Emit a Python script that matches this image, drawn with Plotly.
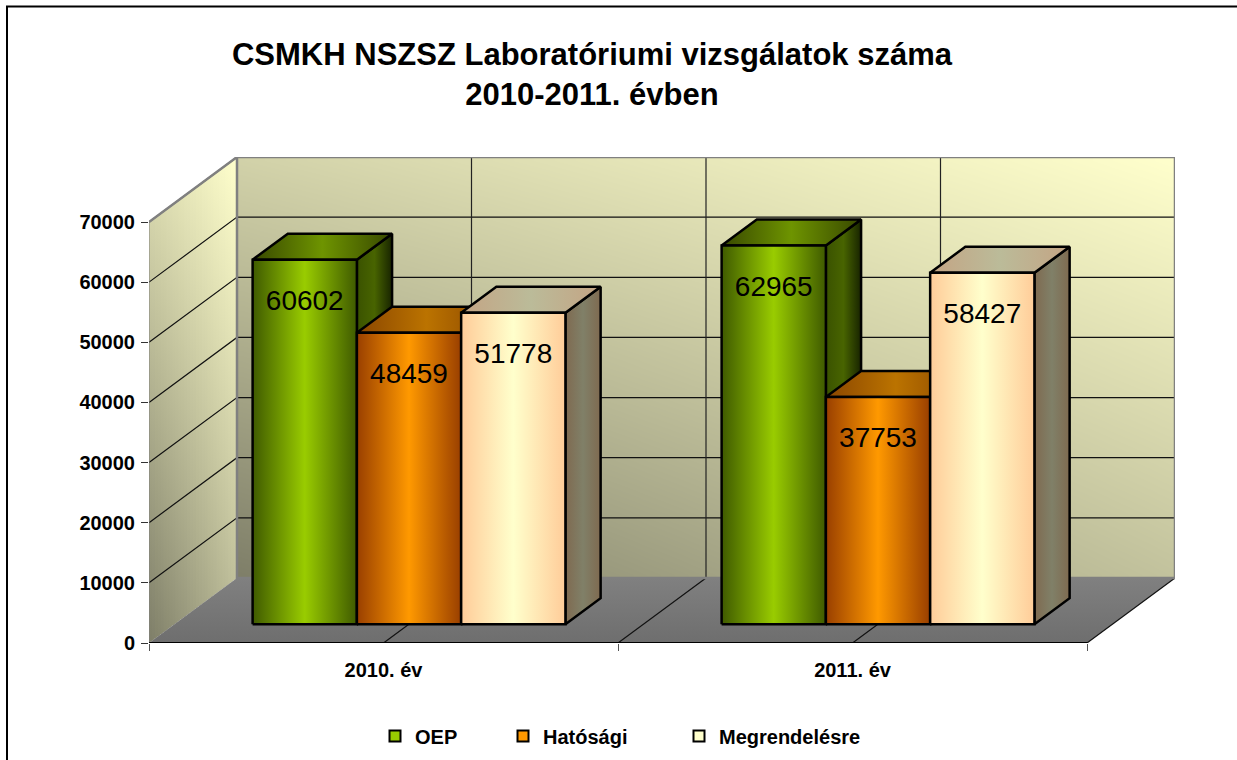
import numpy as np
import plotly.graph_objects as go

categories = ["2010. év", "2011. év"]
series_names = ["OEP", "Hatósági", "Megrendelésre"]
oep = [60602, 62965]
hatosagi = [48459, 37753]
megrendelesre = [51778, 58427]
y_ticks = [0, 10000, 20000, 30000, 40000, 50000, 60000, 70000]
title_text = "CSMKH NSZSZ Laboratóriumi vizsgálatok száma<br>2010-2011. évben"

W, H = 1237, 760
L, R, T, B = 149, 1175, 157, 643
CAT_PX = 469.0
YMAX_TICK = 70000
PX_PER_UNIT = (643 - 222) / YMAX_TICK
DX = (237 - 149) / CAT_PX
DY = (B - T) / PX_PER_UNIT - YMAX_TICK
XMAX = (R - L) / CAT_PX
YMAX = YMAX_TICK + DY
Z0, Z1 = 0.29, 0.69
GROUP = 0.667
FONT = "Liberation Sans"

STYLES = [
    dict(front=["#3F5A00", "#99CC00", "#3F5A00"], top=["#384800", "#6E9400", "#384800"],
         side=["#3A5200", "#486400", "#182400"], swatch="#99CC00"),
    dict(front=["#993F00", "#FF9900", "#993F00"], top=["#8A4600", "#BB7300", "#8A4600"],
         side=["#803000", "#A85800", "#803000"], swatch="#FF9900"),
    dict(front=["#FFCC99", "#FFFFCC", "#FFCC99"], top=["#C4A484", "#BBBB99", "#C4A484"],
         side=["#7F6A50", "#808068", "#7F6A50"], swatch="#FFFFCC"),
]


def cs(cols):
    return [[i / (len(cols) - 1), c] for i, c in enumerate(cols)]


def wall_t(xn, yn):
    return float(np.clip(0.53 * xn + 0.65 * yn - 0.18 * xn * yn, 0, 1))


def mix(t):
    a, b = (126, 126, 104), (255, 255, 204)
    return "rgb(%d,%d,%d)" % tuple(round(a[i] + (b[i] - a[i]) * t) for i in range(3))


fig = go.Figure()

# back wall
nx, ny = 120, 60
xe = np.linspace(DX, 2 + DX, nx + 1)
ye = np.linspace(DY, YMAX, ny + 1)
zw = [[wall_t((i + .5) / nx, (j + .5) / ny) for i in range(nx)] for j in range(ny)]
fig.add_trace(go.Heatmap(x=xe, y=ye, z=zw, zmin=0, zmax=1, showscale=False, hoverinfo="skip",
                         colorscale=[[0, mix(0)], [1, mix(1)]], zsmooth="best"))


def poly(xs, ys, colors=None, horizontal=True, line=None, start=None, stop=None):
    kw = dict(x=list(xs) + [xs[0]], y=list(ys) + [ys[0]], mode="lines", fill="toself",
              showlegend=False, hoverinfo="skip", cliponaxis=False)
    fg = dict(type="horizontal" if horizontal else "vertical", colorscale=cs(colors))
    if start is not None:
        fg.update(start=start, stop=stop)
    kw["fillgradient"] = fg
    kw["line"] = dict(color="black", width=line) if line else dict(width=0, color="rgba(0,0,0,0)")
    fig.add_trace(go.Scatter(**kw))


def seg(xs, ys, color="black", width=1):
    fig.add_trace(go.Scatter(x=xs, y=ys, mode="lines", line=dict(color=color, width=width),
                             showlegend=False, hoverinfo="skip", cliponaxis=False))


# side wall, as narrow strips with a vertical gradient each
n = 30
for i in range(n):
    a, b = i / n, min(1, (i + 1.6) / n)
    xm = (i + .5) / n
    poly([a * DX, b * DX, b * DX, a * DX],
         [a * DY, b * DY, YMAX_TICK + b * DY, YMAX_TICK + a * DY],
         [mix(wall_t(xm, 0)), mix(wall_t(xm, 1))], horizontal=False,
         start=xm * DY, stop=YMAX_TICK + xm * DY)

# floor
poly([0, 2, 2 + DX, DX], [0, 0, DY, DY], ["#6E6E6E", "#808080"], horizontal=False)

# grid lines
for v in y_ticks[1:]:
    seg([0, DX, 2 + DX], [v, v + DY, v + DY], "#111111", 1.2)
for c in [0, 0.5, 1, 1.5, 2]:
    seg([c + DX, c + DX], [DY, YMAX], "#222222", 1.2)
    if c > 0:
        seg([c, c + DX], [0, DY], "#111111", 1.2)

# wall outlines
seg([0, DX, DX, 2 + DX, 2 + DX], [YMAX_TICK, YMAX, DY, DY, YMAX], "#808080", 2.5)
seg([DX, 2 + DX], [YMAX, YMAX], "#808080", 2.5)
seg([0, 0], [0, YMAX_TICK], "#808080", 1)
seg([0, 2], [0, 0], "black", 2)

# bars
series = [oep, hatosagi, megrendelesre]
bw = GROUP / 3
labels_x, labels_y, labels_t = [], [], []
for c in range(len(categories)):
    for s, vals in enumerate(series):
        st = STYLES[s]
        v = vals[c]
        x0 = c + (1 - GROUP) / 2 + s * bw
        x1 = x0 + bw
        fx0, fx1 = x0 + Z0 * DX, x1 + Z0 * DX
        bx0, bx1 = x0 + Z1 * DX, x1 + Z1 * DX
        fy0, fyt = Z0 * DY, v + Z0 * DY
        by0, byt = Z1 * DY, v + Z1 * DY
        poly([fx1, bx1, bx1, fx1], [fy0, by0, byt, fyt], st["side"], line=2.5)
        poly([fx0, fx1, bx1, bx0], [fyt, fyt, byt, byt], st["top"], line=2.5)
        poly([fx0, fx1, fx1, fx0], [fy0, fy0, fyt, fyt], st["front"], line=2.5)
        labels_x.append((fx0 + fx1) / 2)
        labels_y.append(fyt - 7200)
        labels_t.append(str(v))

fig.add_trace(go.Scatter(x=labels_x, y=labels_y, text=labels_t, mode="text", textposition="middle center",
                         textfont=dict(family=FONT, size=28, color="black"), showlegend=False,
                         hoverinfo="skip", cliponaxis=False))

# legends (one per entry, to hold the original spacing)
legend_px = [375, 503, 679]
for i, name in enumerate(series_names):
    fig.add_trace(go.Scatter(x=[None], y=[None], mode="markers", name=name,
                             legend="legend" if i == 0 else "legend%d" % (i + 1),
                             marker=dict(symbol="square", size=11, color=STYLES[i]["swatch"],
                                         line=dict(color="black", width=2))))
leg = {}
for i in range(3):
    leg["legend" if i == 0 else "legend%d" % (i + 1)] = dict(
        xref="container", yref="container",
        x=legend_px[i] / W, y=1 - 736 / H, xanchor="left", yanchor="middle",
        orientation="h", bgcolor="rgba(0,0,0,0)", itemsizing="trace",
        font=dict(family=FONT, size=20, color="black", weight="bold"))

fig.update_layout(
    width=W, height=H, autosize=False, paper_bgcolor="white", plot_bgcolor="white",
    margin=dict(l=L, r=W - R, t=T, b=H - B, pad=0),
    title=dict(text="<b>" + title_text.replace("<br>", "</b><br><b>") + "</b>", x=592 / W, xanchor="center",
               y=1 - 65 / H, yanchor="middle", font=dict(family=FONT, size=31, color="black")),
    xaxis=dict(range=[0, XMAX], showgrid=False, zeroline=False, showline=False,
               tickmode="array", tickvals=[0.5, 1.5], ticktext=categories, ticks="", ticklen=0,
               ticklabelstandoff=13,
               tickfont=dict(family=FONT, size=20, color="black", weight="bold"),
               minor=dict(tickmode="array", tickvals=[0, 1, 2], ticks="outside", ticklen=7, tickcolor="#555555", tickwidth=1, showgrid=False)),
    yaxis=dict(range=[0, YMAX], showgrid=False, zeroline=False, showline=False, tickformat="d",
               tickmode="array", tickvals=y_ticks, ticks="outside", ticklen=7, tickcolor="#333333", tickwidth=1,
               ticklabelstandoff=2,
               tickfont=dict(family=FONT, size=20, color="black", weight="bold")),
    shapes=[dict(type="rect", xref="paper", yref="paper", layer="below",
                 x0=(7 - L) / (R - L), x1=(1300 - L) / (R - L),
                 y0=(B - 800) / (B - T), y1=(B - 6.5) / (B - T),
                 line=dict(color="black", width=2), fillcolor="white")],
    **leg,
)
fig.write_html("out.html", config={"displayModeBar": False},
               post_script="document.body.style.margin='0';document.documentElement.style.overflow='hidden';")
